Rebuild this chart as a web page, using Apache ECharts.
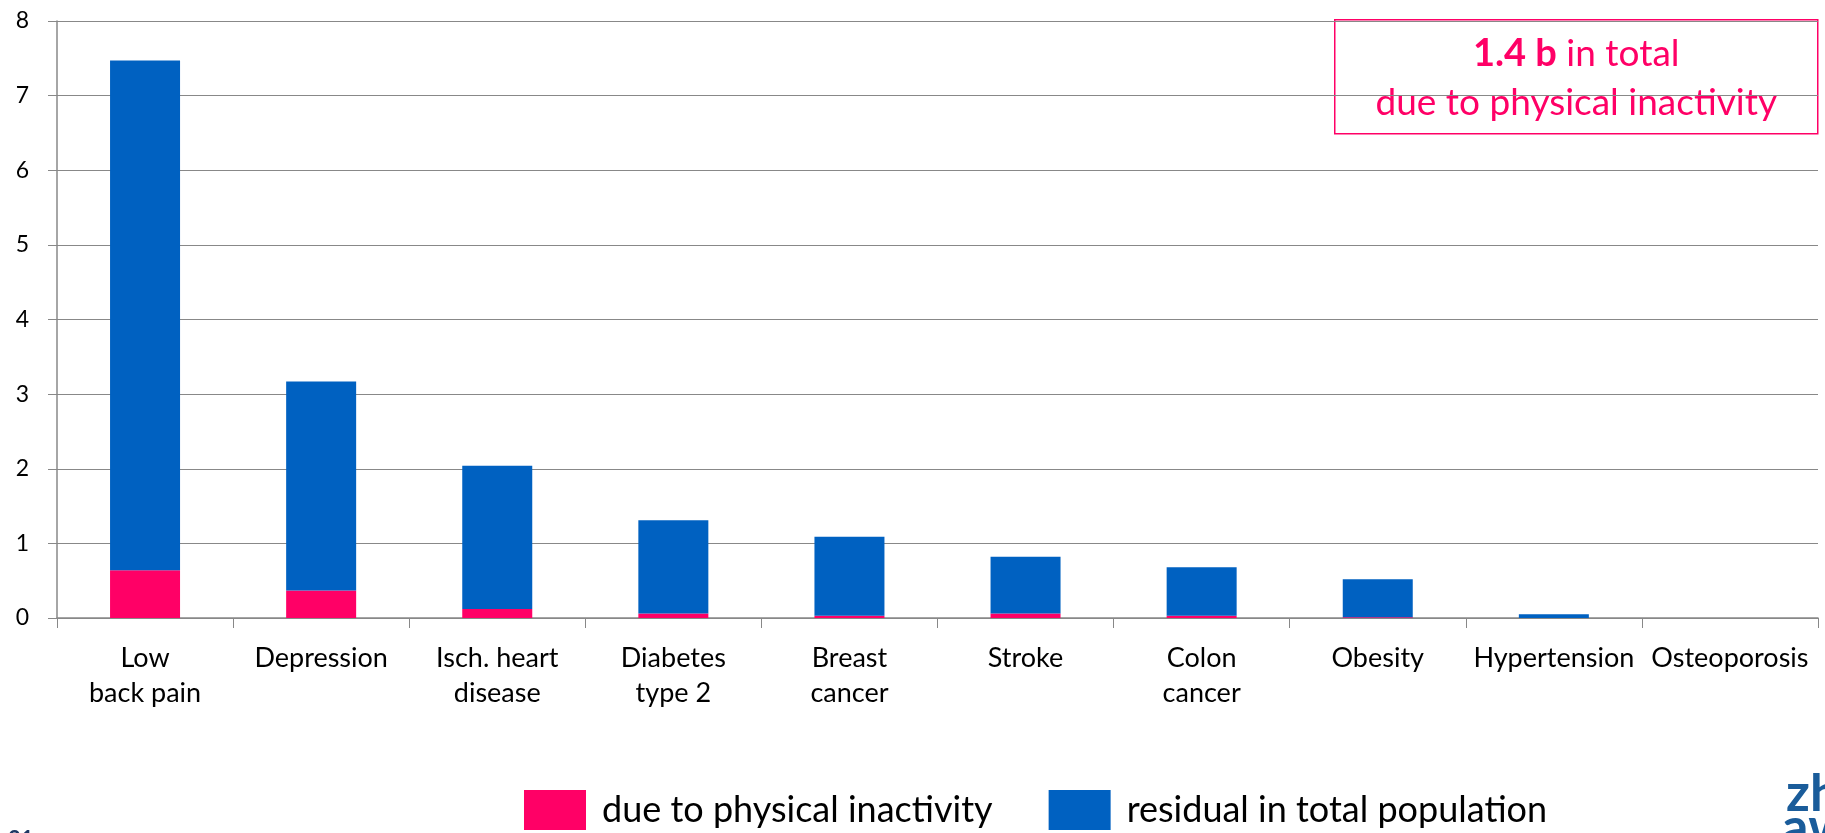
<!DOCTYPE html>
<html>
<head>
<meta charset="utf-8">
<script src="https://cdn.jsdelivr.net/npm/echarts@6/dist/echarts.min.js"></script>
<style>
  html, body { margin: 0; padding: 0; background: #fff; }
  #chart { width: 1825px; height: 833px; }
</style>
</head>
<body>
<div id="chart"></div>
<script>
// Disease burden (billions), split into the share due to physical inactivity
const categories = ['Low\nback pain', 'Depression', 'Isch. heart\ndisease', 'Diabetes\ntype 2',
  'Breast\ncancer', 'Stroke', 'Colon\ncancer', 'Obesity', 'Hypertension', 'Osteoporosis'];
const totalBurden = [7.47, 3.17, 2.04, 1.31, 1.09, 0.82, 0.68, 0.52, 0.05, 0];
const dueToInactivity = [0.64, 0.37, 0.12, 0.06, 0.03, 0.06, 0.03, 0.01, 0, 0];
const residual = totalBurden.map((t, i) => +(t - dueToInactivity[i]).toFixed(2));
const yTicks = [0, 1, 2, 3, 4, 5, 6, 7, 8];

const PINK = '#FF0066';
const BLUE = '#0061C1';
const GRAY = '#888888';
const FONT = 'Lato, "Open Sans", sans-serif';

const chart = echarts.init(document.getElementById('chart'), null, { renderer: 'canvas' });

chart.setOption({
  animation: false,
  backgroundColor: '#fff',
  textStyle: { fontFamily: FONT },
  grid: { left: 57, right: 7, top: 21, bottom: 215, containLabel: false },
  legend: {
    left: 519, top: 785,
    itemWidth: 62, itemHeight: 40, itemGap: 56,
    icon: 'rect',
    textStyle: { fontFamily: FONT, fontSize: 36, color: '#000', padding: [0, 0, 0, 11] },
    data: ['due to physical inactivity', 'residual in total population']
  },
  xAxis: {
    type: 'category',
    data: categories,
    boundaryGap: true,
    axisLine: { lineStyle: { color: GRAY, width: 1.5 } },
    axisTick: { show: true, length: 10, lineStyle: { color: GRAY, width: 1 } },
    axisLabel: { color: '#000', fontSize: 27, lineHeight: 35, margin: 23, interval: 0 }
  },
  yAxis: {
    type: 'value',
    min: yTicks[0], max: yTicks[yTicks.length - 1], interval: 1,
    axisLine: { show: true, lineStyle: { color: GRAY, width: 1.5 } },
    axisTick: { show: true, length: 9, lineStyle: { color: GRAY, width: 1 } },
    axisLabel: { color: '#000', fontSize: 23, margin: 28 },
    splitLine: { lineStyle: { color: GRAY, width: 1.2 } }
  },
  series: [
    {
      name: 'due to physical inactivity',
      type: 'bar', stack: 'burden', barWidth: 70,
      itemStyle: { color: PINK },
      data: dueToInactivity
    },
    {
      name: 'residual in total population',
      type: 'bar', stack: 'burden', barWidth: 70,
      itemStyle: { color: BLUE },
      data: residual
    }
  ],
  graphic: [
    {
      type: 'group', left: 1334, top: 19,
      children: [
        { type: 'rect', shape: { x: 0, y: 0, width: 483, height: 114 },
          style: { fill: '#fff', stroke: PINK, lineWidth: 1.5 } },
        { type: 'text', x: 241.5, y: 34, style: {
            text: '{b|1.4 b} in total', align: 'center', verticalAlign: 'middle',
            fill: PINK, font: '37px ' + FONT,
            rich: { b: { fontWeight: 'bold', fontSize: 38, fill: PINK, fontFamily: FONT } } } },
        { type: 'text', x: 241.5, y: 83, style: {
            text: 'due to physical inactivity', align: 'center', verticalAlign: 'middle',
            fill: PINK, font: '37px ' + FONT } }
      ]
    },
    // slide number, cut by the bottom edge
    { type: 'text', left: 8, top: 829, style: { text: '21', fill: '#1f3864', font: 'bold 22px ' + FONT } },
    // institution logo, cut by the right and bottom edges
    { type: 'text', x: 1786, y: 794, style: { text: 'zh', fill: '#1a5c9a',
        font: 'bold 52px ' + FONT, verticalAlign: 'middle' } },
    { type: 'text', x: 1782, y: 828, style: { text: 'aw', fill: '#1a5c9a',
        font: 'bold 52px ' + FONT, verticalAlign: 'middle' } }
  ]
});
</script>
</body>
</html>
